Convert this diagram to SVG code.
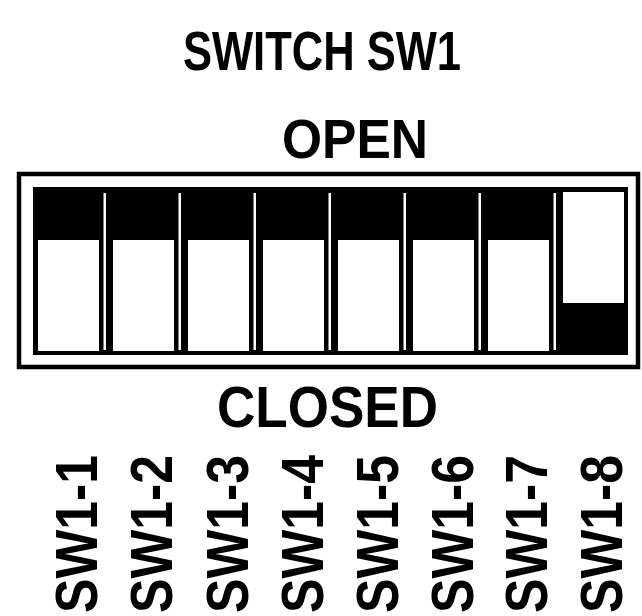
<svg xmlns="http://www.w3.org/2000/svg" width="642" height="616" viewBox="0 0 642 616">
<style>
.t{font-family:"Liberation Sans",Arial,sans-serif;font-weight:bold;fill:#000}
.lab{font-family:"Liberation Sans",Arial,sans-serif;font-weight:bold;font-size:60px;fill:#000}
.w{fill:#fff}
</style>
<rect width="642" height="616" fill="#fff"/>
<g id="title">
<text class="t" x="183" y="70" font-size="56" textLength="278" lengthAdjust="spacingAndGlyphs">SWITCH SW1</text>
<text class="t" x="282" y="158" font-size="56" textLength="146" lengthAdjust="spacingAndGlyphs">OPEN</text>
<text class="t" x="217" y="427" font-size="58" textLength="221" lengthAdjust="spacingAndGlyphs">CLOSED</text>
</g>
<g id="frame">
<rect x="19" y="174" width="619" height="193" fill="none" stroke="#000" stroke-width="4.5"/>
<rect x="33" y="187" width="595" height="168" fill="#000"/>
</g>
<g id="sw1-1"><rect class="w" x="38" y="240" width="61" height="111"/><rect class="w" x="103.5" y="193" width="2.5" height="157"/></g>
<g id="sw1-2"><rect class="w" x="113" y="240" width="61" height="111"/><rect class="w" x="178.5" y="193" width="2.5" height="157"/></g>
<g id="sw1-3"><rect class="w" x="188" y="240" width="61" height="111"/><rect class="w" x="253.5" y="193" width="2.5" height="157"/></g>
<g id="sw1-4"><rect class="w" x="263" y="240" width="61" height="111"/><rect class="w" x="328.5" y="193" width="2.5" height="157"/></g>
<g id="sw1-5"><rect class="w" x="338" y="240" width="61" height="111"/><rect class="w" x="403.5" y="193" width="2.5" height="157"/></g>
<g id="sw1-6"><rect class="w" x="413" y="240" width="61" height="111"/><rect class="w" x="478.5" y="193" width="2.5" height="157"/></g>
<g id="sw1-7"><rect class="w" x="488" y="240" width="61" height="111"/><rect class="w" x="553.5" y="193" width="2.5" height="157"/></g>
<g id="sw1-8"><rect class="w" x="563" y="192" width="61" height="111"/></g>
<g id="labels">
<text class="lab" transform="translate(97,613) rotate(-90)" textLength="158" lengthAdjust="spacingAndGlyphs">SW1-1</text>
<text class="lab" transform="translate(172,613) rotate(-90)" textLength="158" lengthAdjust="spacingAndGlyphs">SW1-2</text>
<text class="lab" transform="translate(248,613) rotate(-90)" textLength="158" lengthAdjust="spacingAndGlyphs">SW1-3</text>
<text class="lab" transform="translate(323,613) rotate(-90)" textLength="158" lengthAdjust="spacingAndGlyphs">SW1-4</text>
<text class="lab" transform="translate(398,613) rotate(-90)" textLength="158" lengthAdjust="spacingAndGlyphs">SW1-5</text>
<text class="lab" transform="translate(473,613) rotate(-90)" textLength="158" lengthAdjust="spacingAndGlyphs">SW1-6</text>
<text class="lab" transform="translate(547,613) rotate(-90)" textLength="158" lengthAdjust="spacingAndGlyphs">SW1-7</text>
<text class="lab" transform="translate(622,613) rotate(-90)" textLength="158" lengthAdjust="spacingAndGlyphs">SW1-8</text>
</g>
</svg>
